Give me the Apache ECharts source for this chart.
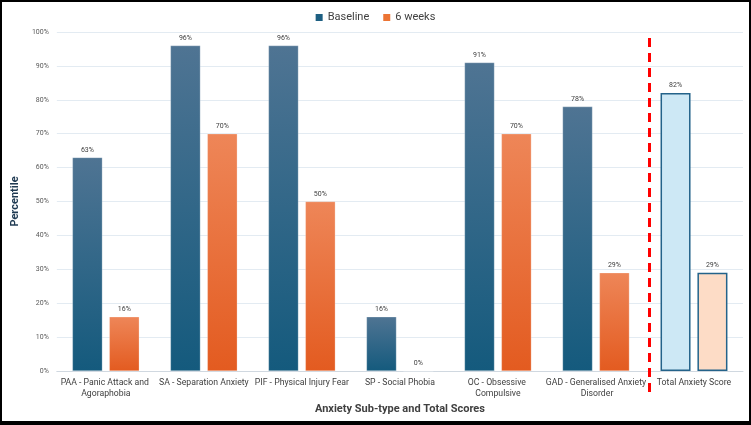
<!DOCTYPE html>
<html>
<head>
<meta charset="utf-8">
<script src="https://cdn.jsdelivr.net/npm/echarts@6/dist/echarts.min.js"></script>
<style>
html,body{margin:0;padding:0;background:#fff;}
#main{width:751px;height:425px;box-sizing:border-box;border:2px solid #000;border-bottom-width:4px;}
</style>
</head>
<body>
<div id="main"></div>
<script>
// anxiety sub-types + total score
var categories = [
    'PAA - Panic Attack and Agoraphobia',
    'SA - Separation Anxiety',
    'PIF - Physical Injury Fear',
    'SP - Social Phobia',
    'OC - Obsessive Compulsive',
    'GAD - Generalised Anxiety Disorder',
    'Total Anxiety Score'
];
var baseline = [63, 96, 96, 16, 91, 78, 82];
var sixWeeks = [16, 70, 50, 0, 70, 29, 29];
var yTicks = [0, 10, 20, 30, 40, 50, 60, 70, 80, 90, 100];
// red dashed separator sits just right of the GAD / Total boundary
var separatorAt = 6.05;

var chart = echarts.init(document.getElementById('main'));

var blueGrad = new echarts.graphic.LinearGradient(0, 0, 0, 1, [
    {offset: 0, color: '#4f7493'},
    {offset: 1, color: '#145a7d'}
]);
var orangeGrad = new echarts.graphic.LinearGradient(0, 0, 0, 1, [
    {offset: 0, color: '#ee8658'},
    {offset: 1, color: '#e35b20'}
]);

// last category (total) is drawn pale with an outline
function barData(vals, grad, paleFill) {
    return vals.map(function (v, i) {
        if (i === vals.length - 1) {
            return {value: v, itemStyle: {color: paleFill, borderColor: '#24638a', borderWidth: 1.5}};
        }
        return {value: v, itemStyle: {color: grad, borderColor: 'rgba(255,255,255,0.5)', borderWidth: 0.5}};
    });
}

var labelStyle = {
    show: true,
    position: 'top',
    distance: 4,
    fontSize: 7,
    color: '#404040',
    formatter: '{c}%'
};

var option = {
    animation: false,
    textStyle: {fontFamily: 'Roboto'},
    legend: {
        data: ['Baseline', '6 weeks'],
        top: 5,
        left: 'center',
        itemWidth: 7,
        itemHeight: 7,
        itemGap: 14,
        itemTextGap: 4,
        icon: 'rect',
        textStyle: {fontSize: 11, color: '#404040'}
    },
    grid: [
        {left: 50, right: 6, top: 30, bottom: 50},
        {left: 50, right: 6, top: 30, bottom: 29}
    ],
    xAxis: [{
        type: 'category',
        data: categories,
        gridIndex: 0,
        axisTick: {show: false},
        axisLine: {lineStyle: {color: '#d0d8e0'}},
        axisLabel: {
            interval: 0,
            fontSize: 8.7,
            color: '#404040',
            margin: 6,
            lineHeight: 11,
            width: 102,
            overflow: 'break'
        },
        name: 'Anxiety Sub-type and Total Scores',
        nameLocation: 'middle',
        nameGap: 30,
        nameTextStyle: {fontSize: 11, fontWeight: 'bold', color: '#404040'}
    }, {
        // helper axis for the separator line
        type: 'value',
        gridIndex: 1,
        min: 0,
        max: categories.length,
        show: false
    }],
    yAxis: [{
        type: 'value',
        gridIndex: 0,
        min: yTicks[0],
        max: yTicks[yTicks.length - 1],
        interval: 10,
        axisLabel: {fontSize: 7, color: '#595959', formatter: '{value}%', margin: 8},
        splitLine: {lineStyle: {color: '#e3ebf2'}},
        name: 'Percentile',
        nameLocation: 'middle',
        nameGap: 32,
        nameTextStyle: {fontSize: 11, fontWeight: 'bold', color: '#1f3a52'}
    }, {
        type: 'value',
        gridIndex: 1,
        min: 0,
        max: 1,
        show: false
    }],
    series: [{
        name: 'Baseline',
        type: 'bar',
        data: barData(baseline, blueGrad, '#cde8f5'),
        itemStyle: {color: '#1d5f82'},
        barWidth: 30,
        barGap: '23%',
        label: labelStyle
    }, {
        name: '6 weeks',
        type: 'bar',
        data: barData(sixWeeks, orangeGrad, '#fddcc6'),
        itemStyle: {color: '#ec7434'},
        barWidth: 30,
        label: labelStyle
    }, {
        type: 'line',
        xAxisIndex: 1,
        yAxisIndex: 1,
        data: [],
        silent: true,
        markLine: {
            symbol: 'none',
            silent: true,
            label: {show: false},
            lineStyle: {color: '#ff0000', width: 3, type: [9, 6]},
            data: [{xAxis: separatorAt}]
        }
    }]
};

chart.setOption(option);
</script>
</body>
</html>
